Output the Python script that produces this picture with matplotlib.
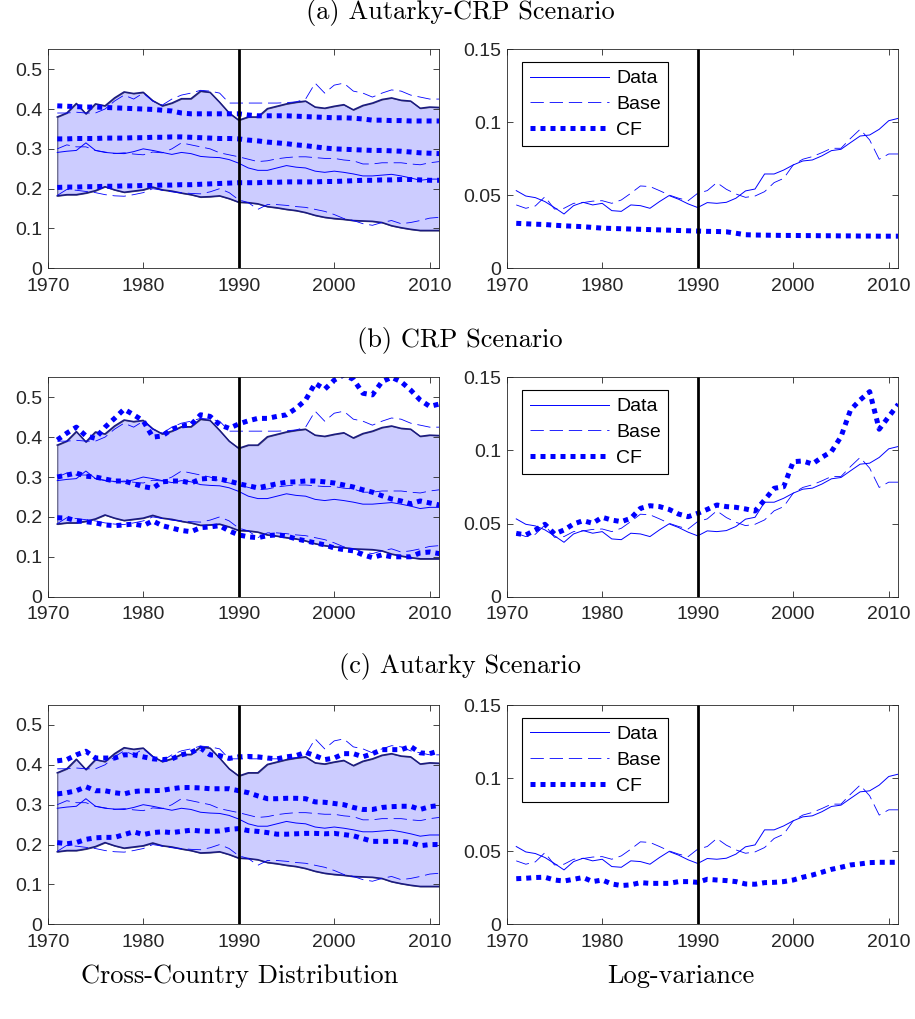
import matplotlib
matplotlib.use("Agg")
import matplotlib.pyplot as plt

# годы
years = list(range(1971, 2012))

# данные: границы и медиана распределения по странам
data_hi = [0.380, 0.390, 0.414, 0.388, 0.413, 0.408, 0.428, 0.443, 0.439, 0.442,
           0.421, 0.408, 0.415, 0.426, 0.426, 0.445, 0.442, 0.417, 0.390, 0.372,
           0.380, 0.380, 0.401, 0.407, 0.413, 0.417, 0.420, 0.405, 0.402, 0.407,
           0.411, 0.398, 0.409, 0.415, 0.424, 0.428, 0.422, 0.420, 0.402, 0.405, 0.404]
data_md = [0.291, 0.294, 0.296, 0.315, 0.296, 0.291, 0.289, 0.288, 0.293, 0.300,
           0.296, 0.291, 0.286, 0.291, 0.288, 0.281, 0.279, 0.278, 0.273, 0.264,
           0.252, 0.246, 0.246, 0.252, 0.258, 0.254, 0.252, 0.244, 0.241, 0.244,
           0.241, 0.237, 0.232, 0.232, 0.234, 0.236, 0.232, 0.227, 0.221, 0.224, 0.224]
data_lo = [0.182, 0.185, 0.185, 0.189, 0.195, 0.205, 0.197, 0.191, 0.194, 0.197,
           0.204, 0.197, 0.194, 0.189, 0.185, 0.179, 0.180, 0.182, 0.175, 0.166,
           0.165, 0.162, 0.155, 0.152, 0.148, 0.145, 0.140, 0.133, 0.128, 0.125,
           0.123, 0.120, 0.119, 0.118, 0.115, 0.107, 0.102, 0.098, 0.095, 0.095, 0.095]

# базовая модель
base_hi = [0.390, 0.390, 0.392, 0.390, 0.390, 0.400, 0.420, 0.435, 0.425, 0.440,
           0.420, 0.410, 0.425, 0.435, 0.440, 0.447, 0.445, 0.440, 0.415, 0.415,
           0.415, 0.415, 0.415, 0.415, 0.416, 0.418, 0.425, 0.465, 0.440, 0.460,
           0.465, 0.445, 0.440, 0.430, 0.440, 0.448, 0.445, 0.435, 0.430, 0.425, 0.425]
base_md = [0.300, 0.310, 0.305, 0.305, 0.296, 0.292, 0.288, 0.290, 0.287, 0.285,
           0.292, 0.290, 0.300, 0.315, 0.310, 0.305, 0.300, 0.290, 0.285, 0.280,
           0.274, 0.268, 0.270, 0.275, 0.278, 0.280, 0.280, 0.278, 0.276, 0.276,
           0.272, 0.270, 0.262, 0.262, 0.265, 0.265, 0.265, 0.262, 0.260, 0.265, 0.268]
base_lo = [0.183, 0.198, 0.196, 0.193, 0.190, 0.185, 0.182, 0.181, 0.185, 0.190,
           0.200, 0.196, 0.192, 0.190, 0.188, 0.187, 0.192, 0.200, 0.190, 0.172,
           0.165, 0.148, 0.160, 0.160, 0.158, 0.155, 0.153, 0.148, 0.143, 0.135,
           0.125, 0.120, 0.112, 0.108, 0.115, 0.120, 0.112, 0.115, 0.120, 0.126, 0.128]

# лог-дисперсия
data_var = [0.0532, 0.0495, 0.0484, 0.0457, 0.0416, 0.0372, 0.0429, 0.0452, 0.0434, 0.0445,
            0.0395, 0.0390, 0.0434, 0.0429, 0.0411, 0.0457, 0.0498, 0.0473, 0.0441, 0.0416,
            0.0450, 0.0445, 0.0452, 0.0480, 0.0530, 0.0543, 0.0646, 0.0646, 0.0673, 0.0708,
            0.0735, 0.0742, 0.0770, 0.0806, 0.0815, 0.0861, 0.0906, 0.0913, 0.0952, 0.1011, 0.1027]
base_var = [0.0434, 0.0411, 0.0427, 0.0490, 0.0406, 0.0411, 0.0445, 0.0450, 0.0460, 0.0463,
            0.0445, 0.0468, 0.0514, 0.0564, 0.0560, 0.0532, 0.0502, 0.0480, 0.0463, 0.0514,
            0.0532, 0.0587, 0.0541, 0.0509, 0.0486, 0.0495, 0.0525, 0.0587, 0.0616, 0.0708,
            0.0747, 0.0765, 0.0792, 0.0822, 0.0822, 0.0890, 0.0952, 0.0879, 0.0747, 0.0783, 0.0783]

# контрфактические сценарии
cf_a_hi = [0.408, 0.407, 0.406, 0.405, 0.405, 0.404, 0.403, 0.402, 0.401, 0.400,
           0.399, 0.397, 0.395, 0.390, 0.388, 0.388, 0.388, 0.388, 0.388, 0.388,
           0.385, 0.383, 0.383, 0.383, 0.383, 0.382, 0.381, 0.380, 0.379, 0.378,
           0.378, 0.377, 0.375, 0.372, 0.372, 0.371, 0.371, 0.370, 0.370, 0.370, 0.370]
cf_a_md = [0.325, 0.325, 0.326, 0.326, 0.326, 0.327, 0.327, 0.327, 0.328, 0.328,
           0.329, 0.329, 0.330, 0.330, 0.329, 0.328, 0.327, 0.326, 0.326, 0.325,
           0.322, 0.320, 0.317, 0.315, 0.313, 0.310, 0.308, 0.305, 0.302, 0.300,
           0.299, 0.298, 0.297, 0.296, 0.296, 0.295, 0.294, 0.292, 0.290, 0.289, 0.288]
cf_a_lo = [0.203, 0.204, 0.204, 0.205, 0.205, 0.206, 0.206, 0.207, 0.207, 0.208,
           0.208, 0.209, 0.209, 0.210, 0.210, 0.211, 0.212, 0.213, 0.214, 0.215,
           0.215, 0.215, 0.216, 0.216, 0.217, 0.217, 0.217, 0.217, 0.218, 0.218,
           0.219, 0.220, 0.221, 0.221, 0.222, 0.222, 0.223, 0.223, 0.222, 0.221, 0.221]
cf_a_var = [0.0308, 0.0305, 0.0302, 0.0300, 0.0295, 0.0291, 0.0288, 0.0285, 0.0280, 0.0275,
            0.0273, 0.0271, 0.0269, 0.0267, 0.0265, 0.0263, 0.0261, 0.0259, 0.0257, 0.0255,
            0.0253, 0.0252, 0.0250, 0.0240, 0.0230, 0.0228, 0.0227, 0.0226, 0.0225, 0.0225,
            0.0224, 0.0224, 0.0223, 0.0223, 0.0222, 0.0222, 0.0221, 0.0221, 0.0220, 0.0220, 0.0220]

cf_b_hi = [0.393, 0.410, 0.425, 0.403, 0.397, 0.425, 0.447, 0.470, 0.456, 0.441,
           0.400, 0.403, 0.420, 0.428, 0.431, 0.456, 0.452, 0.431, 0.422, 0.433,
           0.441, 0.447, 0.447, 0.452, 0.456, 0.472, 0.493, 0.535, 0.520, 0.543,
           0.556, 0.545, 0.510, 0.506, 0.539, 0.550, 0.539, 0.518, 0.493, 0.477, 0.483]
cf_b_md = [0.300, 0.305, 0.310, 0.302, 0.300, 0.295, 0.290, 0.290, 0.283, 0.276,
           0.272, 0.288, 0.290, 0.290, 0.285, 0.295, 0.297, 0.295, 0.290, 0.283,
           0.278, 0.273, 0.278, 0.283, 0.287, 0.288, 0.290, 0.290, 0.288, 0.285,
           0.280, 0.275, 0.268, 0.262, 0.253, 0.245, 0.240, 0.233, 0.240, 0.235, 0.230]
cf_b_lo = [0.198, 0.197, 0.190, 0.188, 0.185, 0.180, 0.178, 0.180, 0.182, 0.178,
           0.190, 0.178, 0.172, 0.166, 0.163, 0.173, 0.175, 0.178, 0.165, 0.155,
           0.150, 0.148, 0.153, 0.155, 0.152, 0.145, 0.140, 0.135, 0.130, 0.122,
           0.118, 0.115, 0.105, 0.098, 0.105, 0.100, 0.100, 0.100, 0.110, 0.112, 0.108]
cf_b_var = [0.0433, 0.0422, 0.0456, 0.0495, 0.0429, 0.0456, 0.0497, 0.0520, 0.0502, 0.0543,
            0.0524, 0.0513, 0.0536, 0.0604, 0.0622, 0.0616, 0.0597, 0.0565, 0.0547, 0.0570,
            0.0597, 0.0627, 0.0616, 0.0611, 0.0600, 0.0586, 0.0661, 0.0741, 0.0752, 0.0923,
            0.0928, 0.0907, 0.0953, 0.0992, 0.1094, 0.1277, 0.1345, 0.1402, 0.1145, 0.1231, 0.1316]

cf_c_hi = [0.410, 0.413, 0.425, 0.434, 0.417, 0.417, 0.417, 0.425, 0.425, 0.420,
           0.415, 0.413, 0.415, 0.425, 0.431, 0.442, 0.425, 0.423, 0.416, 0.420,
           0.421, 0.420, 0.417, 0.415, 0.420, 0.423, 0.431, 0.423, 0.413, 0.417,
           0.428, 0.428, 0.420, 0.428, 0.438, 0.438, 0.438, 0.446, 0.430, 0.428, 0.435]
cf_c_md = [0.327, 0.330, 0.335, 0.345, 0.335, 0.335, 0.330, 0.327, 0.333, 0.335,
           0.335, 0.336, 0.340, 0.343, 0.343, 0.342, 0.340, 0.340, 0.340, 0.335,
           0.330, 0.322, 0.315, 0.315, 0.316, 0.316, 0.315, 0.307, 0.306, 0.303,
           0.300, 0.293, 0.288, 0.288, 0.293, 0.295, 0.296, 0.296, 0.288, 0.295, 0.298]
cf_c_lo = [0.205, 0.202, 0.205, 0.213, 0.217, 0.218, 0.218, 0.225, 0.232, 0.225,
           0.230, 0.232, 0.230, 0.233, 0.236, 0.234, 0.233, 0.234, 0.238, 0.240,
           0.235, 0.233, 0.230, 0.226, 0.226, 0.227, 0.228, 0.228, 0.227, 0.228,
           0.225, 0.222, 0.215, 0.208, 0.208, 0.208, 0.208, 0.205, 0.197, 0.200, 0.200]
cf_c_var = [0.0312, 0.0315, 0.0320, 0.0322, 0.0303, 0.0296, 0.0308, 0.0320, 0.0292, 0.0303,
            0.0276, 0.0265, 0.0270, 0.0285, 0.0280, 0.0280, 0.0280, 0.0292, 0.0292, 0.0287,
            0.0308, 0.0303, 0.0299, 0.0292, 0.0276, 0.0274, 0.0285, 0.0287, 0.0292, 0.0303,
            0.0322, 0.0337, 0.0356, 0.0376, 0.0390, 0.0406, 0.0413, 0.0422, 0.0424, 0.0424, 0.0424]

titles = ["(a) Autarky-CRP Scenario", "(b) CRP Scenario", "(c) Autarky Scenario"]
cf_dist = [(cf_a_hi, cf_a_md, cf_a_lo), (cf_b_hi, cf_b_md, cf_b_lo), (cf_c_hi, cf_c_md, cf_c_lo)]
cf_var = [cf_a_var, cf_b_var, cf_c_var]
legend_labels = ["Data", "Base", "CF"]

blue = (0, 0, 1)
dash = (0, (16, 7))
dots = (0, (1, 1))
tick_font = "Liberation Sans"
serif = "cmr10"

fig = plt.figure(figsize=(9.15, 10.19), dpi=100)
W, H = 915, 1019

# положения рядов в пикселях: верх и низ осей, центр подписи
rows = [(49.3, 268.3, 13), (377.3, 596.7, 341), (705, 924.3, 667)]


def style(ax, yticks, ylabels):
    ax.set_xlim(1970, 2011)
    ax.set_xticks([1970, 1980, 1990, 2000, 2010])
    ax.set_yticks(yticks)
    ax.set_yticklabels(ylabels)
    ax.tick_params(direction="in", top=True, right=True, length=4, width=0.6,
                   labelsize=14, colors="#262626")
    ax.tick_params(axis="x", pad=7)
    ax.tick_params(axis="y", pad=4)
    for lab in ax.get_xticklabels() + ax.get_yticklabels():
        lab.set_fontfamily(tick_font)
    for s in ax.spines.values():
        s.set_color("#262626")
        s.set_linewidth(0.6)


for i, (top, bot, ty) in enumerate(rows):
    hi, md, lo = cf_dist[i]
    # распределение
    ax = fig.add_axes([47.7 / W, 1 - bot / H, (439.3 - 47.7) / W, (bot - top) / H])
    ax.fill_between(years, data_lo, data_hi, facecolor="#ccccff", edgecolor="#55557a", linewidth=0.8)
    ax.plot(years, data_hi, color="#1a1a80", lw=1.1)
    ax.plot(years, data_lo, color="#1a1a80", lw=1.1)
    ax.plot(years, data_md, color=blue, lw=0.7)
    for b in (base_hi, base_md, base_lo):
        ax.plot(years, b, color=blue, lw=0.6, linestyle=dash)
    for c in (hi, md, lo):
        ax.plot(years, c, color=blue, lw=3.6, linestyle=dots, dash_capstyle="butt")
    ax.axvline(1990, color="black", lw=2)
    ax.set_ylim(0, 0.55)
    style(ax, [0, 0.1, 0.2, 0.3, 0.4, 0.5], ["0", "0.1", "0.2", "0.3", "0.4", "0.5"])

    # лог-дисперсия
    ax2 = fig.add_axes([506.7 / W, 1 - bot / H, (898.3 - 506.7) / W, (bot - top) / H])
    l1, = ax2.plot(years, data_var, color=blue, lw=0.7)
    l2, = ax2.plot(years, base_var, color=blue, lw=0.6, linestyle=dash)
    l3, = ax2.plot(years, cf_var[i], color=blue, lw=3.6, linestyle=dots, dash_capstyle="butt")
    ax2.axvline(1990, color="black", lw=2)
    ax2.set_ylim(0, 0.15)
    style(ax2, [0, 0.05, 0.1, 0.15], ["0", "0.05", "0.1", "0.15"])
    leg = ax2.legend([l1, l2, l3], legend_labels, loc="upper left",
                     bbox_to_anchor=(0.04, 0.94), borderaxespad=0, fancybox=False,
                     framealpha=1, edgecolor="black", handlelength=4.1, handletextpad=0.35,
                     borderpad=0.38, labelspacing=0.42,
                     prop={"family": tick_font, "size": 14})
    leg.get_frame().set_linewidth(0.8)

    fig.text(460 / W, 1 - ty / H, titles[i], ha="center", va="center",
             fontfamily=serif, fontsize=19)

fig.text(240 / W, 1 - 976 / H, "Cross-Country Distribution", ha="center", va="center",
         fontfamily=serif, fontsize=19)
fig.text(681 / W, 1 - 976 / H, "Log-variance", ha="center", va="center",
         fontfamily=serif, fontsize=19)

fig.savefig("out.png", dpi=100)
